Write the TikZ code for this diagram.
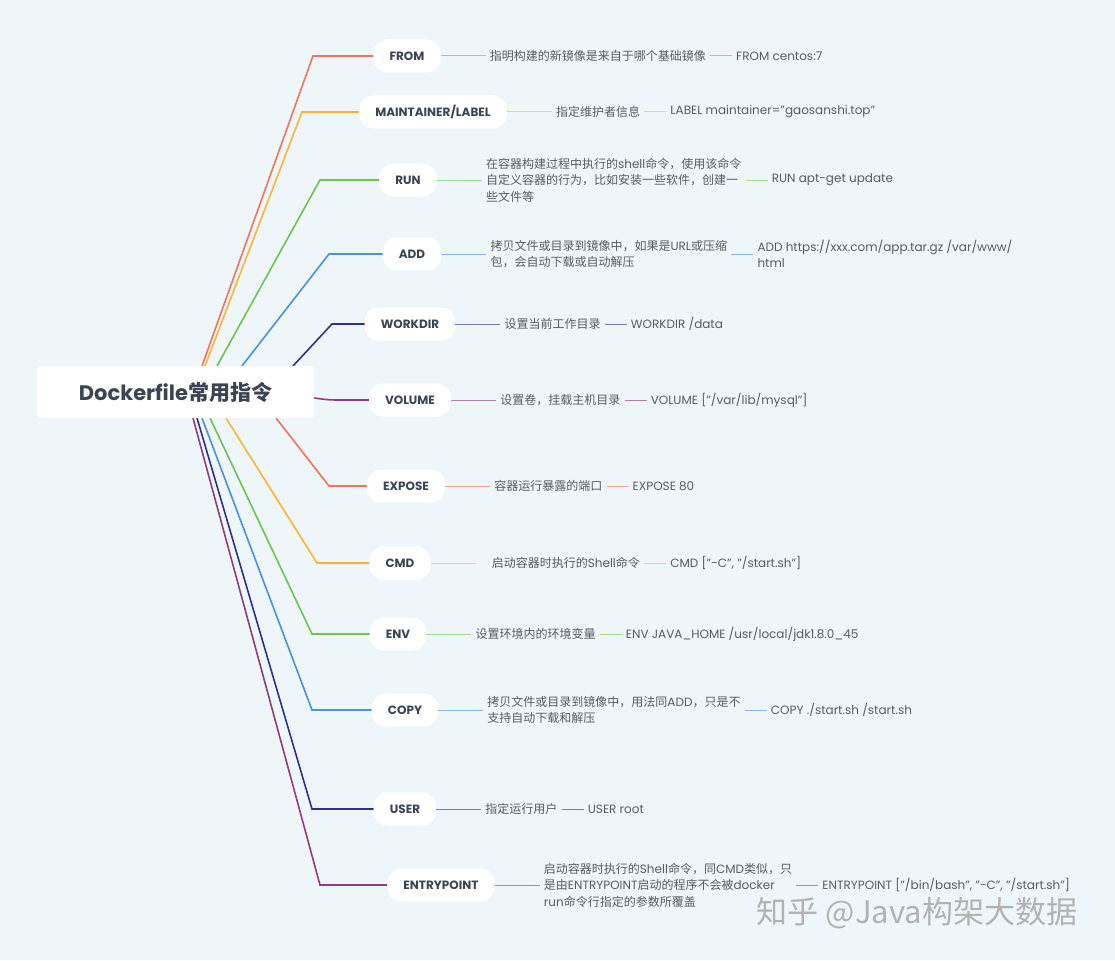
\documentclass[tikz,border=0pt]{standalone}
\usepackage{fontspec}
\setmainfont{Poppins}
\newfontfamily\cjk{Noto Sans CJK SC}
\usetikzlibrary{positioning,backgrounds}
\definecolor{bgc}{HTML}{EFF6F9}
\definecolor{ink}{HTML}{3B4453}
\definecolor{note}{HTML}{575C63}
\definecolor{cred}{HTML}{F2725E}
\definecolor{cyel}{HTML}{FBB532}
\definecolor{cgrn}{HTML}{6DC44F}
\definecolor{cblu}{HTML}{4B8FE0}
\definecolor{cnav}{HTML}{30308A}
\definecolor{cpur}{HTML}{8D3D80}
\newcommand\lat[1]{{\rmfamily #1}}
\newcommand\dq{\symbol{34}}
\tikzset{
  rootbox/.style={fill=white, rounded corners=4pt, minimum width=277pt, minimum height=52pt,
    text=ink, font=\fontsize{21}{24}\selectfont\bfseries},
  cmdbox/.style={fill=white, rounded corners=14pt, minimum height=33pt, inner xsep=16pt,
    text=ink, font=\fontsize{12}{14}\selectfont\bfseries},
  desc/.style={inner xsep=4pt, inner ysep=2pt, align=left, text=note,
    font=\cjk\fontsize{12}{16.5}\selectfont},
  ex/.style={inner xsep=4pt, inner ysep=2pt, align=left, text=note,
    font=\fontsize{12}{16.5}\selectfont},
  trunk/.style={line width=1.6pt},
  twig/.style={line width=1pt},
}
\begin{document}
\begin{tikzpicture}[x=1pt,y=-1pt]
  \node[rootbox] (root) at (175.5,392) {Dockerfile{\cjk 常用指令}};

  \node[cmdbox] (from) at (407,56) {FROM};
  \node[cmdbox] (maint) at (433,112) {MAINTAINER/LABEL};
  \node[cmdbox] (run) at (408,180) {RUN};
  \node[cmdbox] (add) at (412,254) {ADD};
  \node[cmdbox] (workdir) at (410,324) {WORKDIR};
  \node[cmdbox] (volume) at (410,400) {VOLUME};
  \node[cmdbox] (expose) at (406,486) {EXPOSE};
  \node[cmdbox] (cmd) at (400,563) {CMD};
  \node[cmdbox] (env) at (398,634) {ENV};
  \node[cmdbox] (copy) at (405,710) {COPY};
  \node[cmdbox] (user) at (405,809) {USER};
  \node[cmdbox] (entry) at (441,885) {ENTRYPOINT};

  \node[desc, right=45pt of from] (from-d) {指明构建的新镜像是来自于哪个基础镜像};
  \node[desc, right=45pt of maint] (maint-d) {指定维护者信息};
  \node[desc, right=45pt of run] (run-d) {在容器构建过程中执行的\lat{shell}命令，使用该命令\\自定义容器的行为，比如安装一些软件，创建一\\些文件等};
  \node[desc, right=45pt of add] (add-d) {拷贝文件或目录到镜像中，如果是\lat{URL}或压缩\\包，会自动下载或自动解压};
  \node[desc, right=45pt of workdir] (workdir-d) {设置当前工作目录};
  \node[desc, right=45pt of volume] (volume-d) {设置卷，挂载主机目录};
  \node[desc, right=45pt of expose] (expose-d) {容器运行暴露的端口};
  \node[desc, right=45pt of cmd] (cmd-d) {\hspace*{12pt}启动容器时执行的\lat{Shell}命令};
  \node[desc, right=45pt of env] (env-d) {设置环境内的环境变量};
  \node[desc, right=45pt of copy] (copy-d) {拷贝文件或目录到镜像中，用法同\lat{ADD}，只是不\\支持自动下载和解压};
  \node[desc, right=45pt of user] (user-d) {指定运行用户};
  \node[desc, right=45pt of entry] (entry-d) {启动容器时执行的\lat{Shell}命令，同\lat{CMD}类似，只\\是由\lat{ENTRYPOINT}启动的程序不会被\lat{docker}\\\lat{run}命令行指定的参数所覆盖};

  \node[ex, right=22pt of from-d] (from-x) {FROM centos:7};
  \node[ex, right=22pt of maint-d] (maint-x) {LABEL maintainer=\dq gaosanshi.top\dq};
  \node[ex, right=22pt of run-d] (run-x) {RUN apt-get update};
  \node[ex, right=22pt of add-d] (add-x) {ADD https://xxx.com/app.tar.gz /var/www/\\html};
  \node[ex, right=22pt of workdir-d] (workdir-x) {WORKDIR /data};
  \node[ex, right=22pt of volume-d] (volume-x) {VOLUME [\dq/var/lib/mysql\dq]};
  \node[ex, right=22pt of expose-d] (expose-x) {EXPOSE 80};
  \node[ex, right=22pt of cmd-d] (cmd-x) {CMD [\dq-C\dq, \dq/start.sh\dq]};
  \node[ex, right=22pt of env-d] (env-x) {ENV JAVA\_HOME /usr/local/jdk1.8.0\_45};
  \node[ex, right=22pt of copy-d] (copy-x) {COPY ./start.sh /start.sh};
  \node[ex, right=22pt of user-d] (user-x) {USER root};
  \node[ex, right=22pt of entry-d] (entry-x) {ENTRYPOINT [\dq/bin/bash\dq, \dq-C\dq, \dq/start.sh\dq]};

  \coordinate (from-s) at (202,366);   \coordinate (from-k) at (313,56);
  \coordinate (maint-s) at (205,366);  \coordinate (maint-k) at (302,112);
  \coordinate (run-s) at (217,366);    \coordinate (run-k) at (320,180);
  \coordinate (add-s) at (242,366);    \coordinate (add-k) at (329,254);
  \coordinate (workdir-s) at (293,366); \coordinate (workdir-k) at (332,324);
  \coordinate (volume-s) at (300,397); \coordinate (volume-k) at (336,400);
  \coordinate (expose-s) at (276,418); \coordinate (expose-k) at (329,486);
  \coordinate (cmd-s) at (226,418);    \coordinate (cmd-k) at (317,563);
  \coordinate (env-s) at (210,418);    \coordinate (env-k) at (312,634);
  \coordinate (copy-s) at (202,418);   \coordinate (copy-k) at (312,710);
  \coordinate (user-s) at (197,418);   \coordinate (user-k) at (312,809);
  \coordinate (entry-s) at (193,418);  \coordinate (entry-k) at (320,885);

  \begin{scope}[on background layer]
    \fill[bgc] (0,0) rectangle (1115,960);
    \draw[trunk, cred] (from-s) -- (from-k) -- (from);
    \draw[trunk, cyel] (maint-s) -- (maint-k) -- (maint);
    \draw[trunk, cgrn] (run-s) -- (run-k) -- (run);
    \draw[trunk, cblu] (add-s) -- (add-k) -- (add);
    \draw[trunk, cnav] (workdir-s) -- (workdir-k) -- (workdir);
    \draw[trunk, cpur] (volume-s) to[out=0,in=180] (volume-k) -- (volume);
    \draw[trunk, cred] (expose-s) -- (expose-k) -- (expose);
    \draw[trunk, cyel] (cmd-s) -- (cmd-k) -- (cmd);
    \draw[trunk, cgrn] (env-s) -- (env-k) -- (env);
    \draw[trunk, cblu] (copy-s) -- (copy-k) -- (copy);
    \draw[trunk, cnav] (user-s) -- (user-k) -- (user);
    \draw[trunk, cpur] (entry-s) -- (entry-k) -- (entry);
  \end{scope}

  \draw[twig, cred!65!white] (from) -- (from-d) (from-d) -- (from-x);
  \draw[twig, cyel!65!white] (maint) -- (maint-d) (maint-d) -- (maint-x);
  \draw[twig, cgrn!65!white] (run) -- (run-d) (run-d) -- (run-x);
  \draw[twig, cblu!65!white] (add) -- (add-d) (add-d) -- (add-x);
  \draw[twig, cnav!65!white] (workdir) -- (workdir-d) (workdir-d) -- (workdir-x);
  \draw[twig, cpur!65!white] (volume) -- (volume-d) (volume-d) -- (volume-x);
  \draw[twig, cred!65!white] (expose) -- (expose-d) (expose-d) -- (expose-x);
  \draw[twig, cyel!65!white] (cmd) -- (cmd-d) (cmd-d) -- (cmd-x);
  \draw[twig, cgrn!65!white] (env) -- (env-d) (env-d) -- (env-x);
  \draw[twig, cblu!65!white] (copy) -- (copy-d) (copy-d) -- (copy-x);
  \draw[twig, cnav!65!white] (user) -- (user-d) (user-d) -- (user-x);
  \draw[twig, cpur!65!white] (entry) -- (entry-d) (entry-d) -- (entry-x);

  \node[font=\cjk\fontsize{31}{34}\selectfont, text=black!30] (mark) at (917,913) {知乎 @Java构架大数据};
\end{tikzpicture}
\end{document}
